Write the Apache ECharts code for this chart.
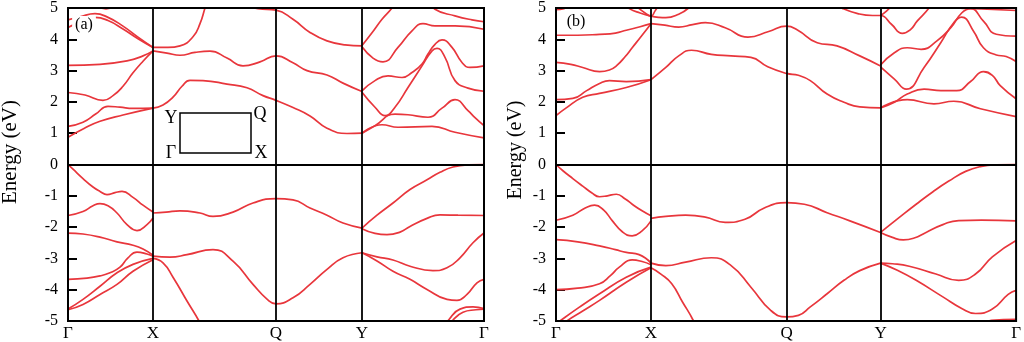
<!DOCTYPE html>
<html><head><meta charset="utf-8">
<script src="https://cdn.jsdelivr.net/npm/echarts@6/dist/echarts.min.js"></script>
<style>html,body{margin:0;padding:0;background:#fff}#c{width:1024px;height:342px}</style>
</head><body><div id="c"></div>
<script>
// high-symmetry points (k-path distance) and labels
const kLabels = ['Γ','X','Q','Y','Γ'];
const kPointsA = [0, 85, 208, 294, 416];
const kPointsB = [0, 96, 233, 328, 465];
const yTicks = [-5,-4,-3,-2,-1,0,1,2,3,4,5];

// ---------- Panel (a) conduction bands ----------
const A_C1 = [[0,0.87],[16,1.15],[32,1.38],[55,1.58],[85,1.80]];
const A_C2 = [[0,1.22],[15,1.35],[28,1.62],[40,1.86],[52,1.83],[65,1.79],[85,1.80]];
const A_C3 = [[0,2.30],[17,2.22],[35,2.05],[45,2.2],[55,2.5],[65,2.93],[75,3.3],[85,3.63]];
const A_C4 = [[0,3.17],[32,3.20],[59,3.31],[75,3.47],[85,3.63]];
const A_C5 = [[0,4.62],[12,4.72],[27,4.82],[40,4.70],[55,4.42],[70,4.07],[85,3.74]];
const A_C6 = [[0,4.38],[12,4.55],[27,4.70],[40,4.60],[55,4.33],[70,4.02],[85,3.74]];
const A_C7 = [[22,5.3],[38,4.97],[54,5.3]];
const A_C8 = [[85,3.74],[100,3.74],[112,3.79],[125,4.08],[132,4.5],[137,5.0],[140,5.3]];
const A_C9 = [[85,3.63],[99,3.56],[112,3.49],[127,3.58],[142,3.62],[159,3.40],[175,3.15],[192,3.28],[208,3.47],[225,3.25],[239,3.0],[259,2.86],[275,2.6],[294,2.33]];
const A_C10 = [[85,1.80],[95,1.90],[105,2.15],[114,2.50],[122,2.69],[135,2.68],[159,2.57],[179,2.45],[195,2.2],[208,2.05],[225,1.82],[242,1.55],[259,1.16],[279,0.99],[294,1.0]];
const A_C11 = [[175,5.1],[190,4.98],[208,4.93],[225,4.64],[242,4.22],[259,3.95],[277,3.82],[294,3.79]];
const A_C12 = [[294,3.80],[304,4.21],[314,4.64],[324,5.0],[330,5.3]];
const A_C13 = [[294,3.76],[305,3.4],[315,3.28],[330,3.74],[344,4.27],[355,4.50],[367,4.43],[387,4.43],[416,4.32]];
const A_C14 = [[360,5.3],[367,4.96],[387,4.75],[404,4.62],[416,4.56]];
const A_C15 = [[294,2.35],[307,2.68],[320,2.83],[334,2.78],[344,2.94],[354,3.21],[360,3.53],[367,3.84],[374,3.98],[384,3.74],[394,3.26],[402,3.10],[416,3.15]];
const A_C16 = [[294,2.31],[307,1.83],[317,1.56],[327,1.83],[340,2.46],[354,3.15],[364,3.63],[369,3.71],[377,3.42],[387,2.68],[400,2.44],[416,2.34]];
const A_C17 = [[294,1.0],[307,1.24],[327,1.61],[340,1.59],[360,1.51],[374,1.80],[387,2.07],[400,1.72],[407,1.50],[416,1.24]];
const A_C18 = [[294,1.0],[314,1.27],[330,1.19],[364,1.22],[387,1.03],[416,0.85]];

// ---------- Panel (a) valence bands ----------
const A_V1 = [[0,0],[5,-0.15],[15,-0.45],[25,-0.72],[32,-0.86],[39,-0.96],[47,-0.9],[54,-0.86],[65,-1.05],[75,-1.3],[85,-1.52]];
const A_V2 = [[0,-1.63],[15,-1.5],[25,-1.32],[32,-1.25],[40,-1.32],[49,-1.55],[59,-1.92],[69,-2.11],[79,-1.92],[85,-1.71]];
const A_V3 = [[0,-2.19],[15,-2.22],[32,-2.32],[49,-2.47],[65,-2.58],[75,-2.7],[85,-2.90]];
const A_V4 = [[0,-3.67],[19,-3.63],[32,-3.56],[42,-3.46],[52,-3.28],[60,-2.98],[69,-2.80],[79,-2.86],[85,-2.93]];
const A_V5 = [[0,-4.62],[15,-4.31],[32,-3.89],[49,-3.46],[65,-3.19],[85,-3.0]];
const A_V6 = [[0,-4.64],[15,-4.47],[32,-4.15],[49,-3.83],[65,-3.41],[85,-3.04]];
const A_V7 = [[85,-1.55],[98,-1.52],[112,-1.48],[132,-1.55],[145,-1.66],[165,-1.52],[185,-1.23],[208,-1.09],[225,-1.13],[242,-1.39],[259,-1.62],[275,-1.87],[294,-2.03]];
const A_V8 = [[85,-2.93],[102,-2.96],[119,-2.88],[145,-2.72],[165,-3.09],[185,-3.83],[199,-4.3],[208,-4.45],[225,-4.26],[242,-3.83],[259,-3.35],[275,-2.98],[294,-2.82]];
const A_V9 = [[85,-3.0],[95,-3.14],[105,-3.6],[119,-4.36],[131,-5.0],[135,-5.3]];
const A_V10 = [[294,-2.03],[309,-1.62],[325,-1.23],[342,-0.80],[359,-0.49],[372,-0.25],[385,-0.08],[400,-0.01],[416,0]];
const A_V11 = [[294,-2.05],[307,-2.2],[319,-2.24],[332,-2.16],[342,-1.98],[359,-1.72],[372,-1.61],[390,-1.62],[416,-1.63]];
const A_V12 = [[294,-2.82],[309,-2.95],[325,-3.05],[342,-3.25],[365,-3.39],[379,-3.30],[392,-2.98],[405,-2.5],[416,-2.19]];
const A_V13 = [[294,-2.82],[309,-3.08],[325,-3.41],[342,-3.67],[359,-3.99],[379,-4.31],[389,-4.34],[399,-4.15],[409,-3.78],[416,-3.67]];
const A_V14 = [[374,-5.3],[381,-4.95],[392,-4.62],[405,-4.55],[416,-4.6]];
const A_V15 = [[378,-5.3],[385,-4.97],[395,-4.72],[408,-4.64],[416,-4.62]];

// ---------- Panel (b) conduction bands ----------
const B_C1 = [[0,1.56],[10,1.8],[27,2.15],[44,2.27],[71,2.46],[96,2.71]];
const B_C2 = [[0,2.07],[17,2.11],[31,2.36],[44,2.59],[54,2.68],[71,2.65],[96,2.71]];
const B_C3 = [[0,3.26],[15,3.2],[27,3.1],[44,2.97],[54,3.02],[61,3.15],[70,3.45],[77,3.73],[87,4.13],[96,4.5]];
const B_C4 = [[0,4.13],[22,4.13],[44,4.16],[60,4.2],[71,4.29],[85,4.4],[96,4.5]];
const B_C5 = [[70,5.1],[74,4.98],[85,4.84],[96,4.74],[104,4.7],[111,4.69],[124,4.8],[134,5.0],[138,5.2]];
const B_C6 = [[80,5.1],[84,4.98],[90,4.84],[96,4.74],[100,4.9],[104,5.1]];
const B_C7 = [[0,4.95],[8,4.98],[14,5.1]];
const B_C8 = [[96,4.5],[110,4.45],[124,4.39],[138,4.47],[151,4.53],[171,4.37],[194,4.07],[215,4.25],[233,4.42],[244,4.3],[264,3.89],[284,3.79],[307,3.47],[328,3.15]];
const B_C9 = [[96,2.71],[111,3.1],[124,3.47],[137,3.65],[157,3.52],[177,3.47],[197,3.42],[214,3.12],[233,2.91],[245,2.85],[257,2.68],[274,2.25],[291,1.99],[307,1.84],[328,1.81]];
const B_C10 = [[285,5.1],[290,4.98],[305,4.82],[320,4.76],[328,4.76],[339,4.48],[350,4.19],[358,4.3],[365,4.58],[377,5.0],[380,5.2]];
const B_C11 = [[328,4.76],[334,4.9],[340,5.1]];
const B_C12 = [[328,3.18],[342,3.57],[355,3.73],[369,3.68],[385,3.95],[399,4.37],[410,4.84],[419,4.98],[432,4.58],[445,4.16],[465,4.10]];
const B_C13 = [[328,3.12],[342,2.73],[354,2.41],[372,3.10],[389,3.9],[402,4.53],[410,4.71],[422,4.26],[432,3.73],[445,3.50],[455,3.45],[465,3.29]];
const B_C14 = [[395,5.2],[405,5.0],[430,4.97],[465,4.92]];
const B_C15 = [[328,1.81],[342,1.99],[355,2.25],[372,2.41],[389,2.36],[405,2.36],[419,2.65],[432,2.97],[441,2.85],[449,2.52],[465,2.10]];
const B_C16 = [[328,1.81],[355,2.07],[382,1.94],[402,2.02],[429,1.78],[465,1.53]];

// ---------- Panel (b) valence bands ----------
const B_V1 = [[0,0],[7,-0.2],[17,-0.45],[27,-0.69],[36,-0.9],[44,-1.03],[52,-1.0],[61,-0.95],[70,-1.1],[77,-1.27],[87,-1.48],[96,-1.64]];
const B_V2 = [[0,-1.78],[17,-1.62],[30,-1.38],[39,-1.30],[48,-1.45],[57,-1.80],[67,-2.15],[77,-2.28],[87,-2.12],[96,-1.80]];
const B_V3 = [[0,-2.40],[22,-2.47],[44,-2.6],[60,-2.72],[71,-2.81],[84,-2.88],[96,-3.15]];
const B_V4 = [[0,-4.0],[22,-3.95],[44,-3.81],[55,-3.55],[64,-3.28],[77,-3.05],[87,-3.1],[96,-3.2]];
const B_V5 = [[0,-5.1],[4,-5.0],[24,-4.55],[44,-4.13],[71,-3.6],[96,-3.28]];
const B_V6 = [[0,-5.3],[11,-5.0],[27,-4.68],[44,-4.34],[71,-3.76],[96,-3.3]];
const B_V7 = [[96,-1.72],[111,-1.66],[131,-1.62],[151,-1.68],[171,-1.85],[191,-1.75],[211,-1.38],[233,-1.22],[251,-1.27],[274,-1.54],[297,-1.80],[328,-2.17]];
const B_V8 = [[96,-3.15],[111,-3.23],[131,-3.12],[157,-2.98],[177,-3.23],[197,-3.92],[217,-4.66],[233,-4.87],[245,-4.82],[257,-4.55],[274,-4.13],[291,-3.70],[307,-3.39],[328,-3.15]];
const B_V9 = [[96,-3.3],[106,-3.5],[117,-3.81],[128,-4.4],[139,-5.0],[142,-5.3]];
const B_V10 = [[328,-2.17],[347,-1.69],[364,-1.27],[381,-0.87],[397,-0.53],[414,-0.22],[430,-0.06],[445,-0.01],[465,0]];
const B_V11 = [[328,-2.17],[340,-2.33],[351,-2.41],[362,-2.35],[374,-2.17],[391,-1.92],[407,-1.79],[430,-1.78],[465,-1.80]];
const B_V12 = [[328,-3.15],[340,-3.17],[357,-3.25],[384,-3.5],[407,-3.70],[424,-3.5],[441,-2.95],[465,-2.43]];
const B_V13 = [[328,-3.15],[345,-3.38],[364,-3.70],[391,-4.23],[410,-4.6],[424,-4.76],[441,-4.62],[457,-4.15],[465,-4.02]];
const B_V14 = [[430,-5.2],[440,-4.98],[465,-4.95]];

const bandsA = [A_C1,A_C2,A_C3,A_C4,A_C5,A_C6,A_C7,A_C8,A_C9,A_C10,A_C11,A_C12,A_C13,A_C14,A_C15,A_C16,A_C17,A_C18,
  A_V1,A_V2,A_V3,A_V4,A_V5,A_V6,A_V7,A_V8,A_V9,A_V10,A_V11,A_V12,A_V13,A_V14,A_V15];
const bandsB = [B_C1,B_C2,B_C3,B_C4,B_C5,B_C6,B_C7,B_C8,B_C9,B_C10,B_C11,B_C12,B_C13,B_C14,B_C15,B_C16,
  B_V1,B_V2,B_V3,B_V4,B_V5,B_V6,B_V7,B_V8,B_V9,B_V10,B_V11,B_V12,B_V13,B_V14];

const RED = '#e8363c';
const SERIF = '"Liberation Serif", "DejaVu Serif", serif';

function xAxisFor(idx, pts) {
  return {
    type: 'value', gridIndex: idx, min: pts[0], max: pts[pts.length-1],
    axisLine: {show: false}, axisTick: {show: false}, splitLine: {show: false},
    axisLabel: {
      customValues: pts, margin: 4, color: '#000', fontFamily: SERIF, fontSize: 17,
      showMinLabel: true, showMaxLabel: true,
      formatter: v => { const i = pts.indexOf(v); return i >= 0 ? kLabels[i] : ''; }
    }
  };
}
function yAxisFor(idx) {
  return {
    type: 'value', gridIndex: idx, min: -5, max: 5, interval: 1,
    axisLine: {show: false}, splitLine: {show: false},
    axisTick: {show: true, inside: true, length: 9, lineStyle: {color: '#000', width: 2}},
    axisLabel: {margin: 10, color: '#000', fontFamily: SERIF, fontSize: 16, formatter: v => String(v)}
  };
}
function seriesFor(bands, idx, pts) {
  return bands.map((d, i) => {
    const s = {
      type: 'line', xAxisIndex: idx, yAxisIndex: idx, data: d, smooth: 0.5,
      showSymbol: false, symbol: 'none', clip: true, silent: true,
      lineStyle: {color: RED, width: 1.7}, z: 3
    };
    if (i === 0) {
      s.markLine = {
        silent: true, symbol: ['none','none'], label: {show: false},
        lineStyle: {color: '#000', width: 1.8, type: 'solid'},
        data: pts.slice(1, -1).map(v => ({xAxis: v})).concat([{yAxis: 0}])
      };
    }
    return s;
  });
}

const chart = echarts.init(document.getElementById('c'), null, {renderer: 'canvas'});
chart.setOption({
  animation: false,
  backgroundColor: '#fff',
  grid: [
    {left: 68, top: 7, width: 416, height: 314, show: true, borderColor: '#000', borderWidth: 2, backgroundColor: 'transparent', z: 5},
    {left: 556, top: 7, width: 465, height: 315, show: true, borderColor: '#000', borderWidth: 2, backgroundColor: 'transparent', z: 5}
  ],
  xAxis: [xAxisFor(0, kPointsA), xAxisFor(1, kPointsB)],
  yAxis: [yAxisFor(0), yAxisFor(1)],
  series: seriesFor(bandsA, 0, kPointsA).concat(seriesFor(bandsB, 1, kPointsB)),
  graphic: [
    {type: 'text', x: 10, y: 152, rotation: Math.PI/2, style: {text: 'Energy (eV)', font: '21px ' + SERIF, fill: '#000', textAlign: 'center', textVerticalAlign: 'middle'}},
    {type: 'text', x: 516, y: 150, rotation: Math.PI/2, style: {text: 'Energy (eV)', font: '20px ' + SERIF, fill: '#000', textAlign: 'center', textVerticalAlign: 'middle'}},
    {type: 'text', x: 84, y: 25, z: 10, style: {text: '(a)', font: '16px ' + SERIF, fill: '#000', textAlign: 'center', textVerticalAlign: 'middle', backgroundColor: '#fff', padding: [1, 3]}},
    {type: 'text', x: 576, y: 22, z: 10, style: {text: '(b)', font: '16px ' + SERIF, fill: '#000', textAlign: 'center', textVerticalAlign: 'middle'}},
    {type: 'rect', shape: {x: 180, y: 113, width: 71, height: 40}, style: {fill: 'none', stroke: '#000', lineWidth: 1.5}},
    {type: 'text', x: 171, y: 118, style: {text: 'Y', font: '18px ' + SERIF, fill: '#000', textAlign: 'center', textVerticalAlign: 'middle'}},
    {type: 'text', x: 260, y: 114, style: {text: 'Q', font: '18px ' + SERIF, fill: '#000', textAlign: 'center', textVerticalAlign: 'middle'}},
    {type: 'text', x: 171, y: 153, style: {text: 'Γ', font: '18px ' + SERIF, fill: '#000', textAlign: 'center', textVerticalAlign: 'middle'}},
    {type: 'text', x: 261, y: 153, style: {text: 'X', font: '18px ' + SERIF, fill: '#000', textAlign: 'center', textVerticalAlign: 'middle'}}
  ]
});
</script></body></html>
